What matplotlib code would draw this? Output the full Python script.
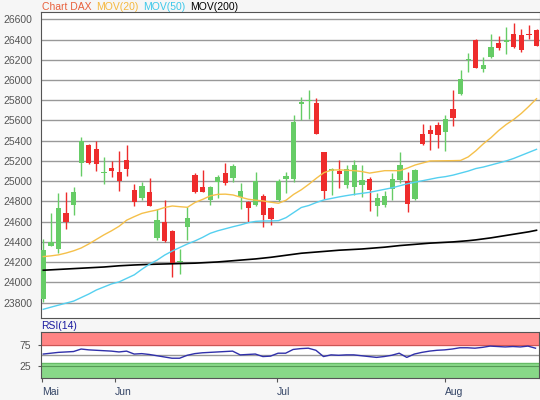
import matplotlib.pyplot as plt

plt.rcParams['font.family'] = ['Liberation Sans', 'DejaVu Sans']

# daily candles (Mai - Aug), one entry per trading day
opens = [23840, 24363, 24330, 24686, 24765, 25176, 25360, 25318, 25077, 25127,
         25087, 25206, 24916, 24837, 24890, 24439, 24593, 24511, 24200, 24544,
         25061, 24946, 24817, 24990, 25076, 25033, 24839, 24796, 24763, 24852,
         24737, 24812, 25020, 25020, 25765, 25790, 25776, 25288, 25097, 25097,
         24965, 24942, 24965, 25025, 24758, 24768, 24926, 25008, 25005, 24822,
         25465, 25505, 25554, 25488, 25712, 25857, 26196, 26400, 26112, 26225,
         26367, 26380, 26455, 26445, 26455, 26494]
highs = [24430, 24686, 24883, 24896, 24946, 25440, 25365, 25393, 25242, 25202,
         25301, 25360, 24972, 24995, 25028, 24725, 24817, 24521, 24330, 24745,
         25081, 25114, 24956, 25064, 25175, 25165, 24987, 24800, 25086, 24878,
         24740, 25026, 25086, 25652, 25833, 25900, 25825, 25292, 25130, 25206,
         25163, 25206, 25163, 25041, 24883, 24900, 25081, 25285, 25094, 25120,
         25564, 25554, 25580, 25653, 25900, 26097, 26262, 26405, 26232, 26452,
         26430, 26520, 26567, 26500, 26544, 26500]
lows = [23803, 24356, 24291, 24528, 24666, 25054, 25170, 25104, 24972, 25038,
        24900, 25054, 24751, 24817, 24751, 24422, 24396, 24050, 24083, 24419,
        24884, 24890, 24765, 24834, 24961, 24993, 24730, 24592, 24756, 24549,
        24566, 24806, 24885, 24993, 25602, 25619, 25467, 24827, 24867, 24933,
        24933, 24867, 24844, 24702, 24653, 24745, 24817, 24982, 24699, 24815,
        25360, 25307, 25330, 25297, 25547, 25855, 26081, 26120, 26075, 26215,
        26297, 26260, 26313, 26280, 26402, 26340]
closes = [24318, 24396, 24738, 24600, 24890, 25400, 25176, 25170, 25090, 25100,
          25002, 25117, 24791, 24949, 24751, 24620, 24406, 24192, 24212, 24640,
          24890, 24896, 24939, 25045, 24987, 25148, 24901, 24737, 25003, 24664,
          24625, 25003, 25053, 25586, 25780, 25805, 25469, 24900, 25123, 25074,
          25123, 25156, 25015, 24916, 24834, 24857, 25021, 25163, 24772, 25110,
          25363, 25462, 25455, 25610, 25626, 26005, 26206, 26122, 26148, 26329,
          26313, 26398, 26329, 26297, 26440, 26340]

mov20 = [24255, 24262, 24272, 24290, 24312, 24340, 24380, 24425, 24470, 24510,
         24555, 24615, 24650, 24682, 24700, 24716, 24740, 24755, 24748, 24742,
         24790, 24820, 24855, 24870, 24872, 24864, 24842, 24822, 24812, 24805,
         24792, 24782, 24812, 24870, 24915, 24970, 25030, 25085, 25110, 25112,
         25108, 25104, 25095, 25080, 25092, 25104, 25104, 25104, 25130, 25160,
         25180, 25200, 25201, 25202, 25203, 25205, 25240, 25300, 25370, 25430,
         25500, 25560, 25610, 25670, 25740, 25815]
mov50 = [23734, 23755, 23775, 23795, 23815, 23850, 23885, 23925, 23955, 23985,
         24005, 24040, 24075, 24130, 24180, 24220, 24270, 24310, 24345, 24380,
         24410, 24445, 24485, 24510, 24530, 24550, 24568, 24590, 24603, 24607,
         24607, 24610, 24640, 24690, 24740, 24760, 24790, 24815, 24830, 24845,
         24858, 24870, 24880, 24890, 24905, 24920, 24935, 24955, 24975, 24990,
         25005, 25020, 25035, 25045, 25060, 25080, 25100, 25125, 25140, 25160,
         25180, 25200, 25225, 25255, 25285, 25315]
mov200 = [24120, 24124, 24128, 24132, 24136, 24140, 24144, 24148, 24152, 24158,
          24164, 24168, 24172, 24175, 24178, 24180, 24182, 24184, 24186, 24188,
          24190, 24194, 24198, 24202, 24208, 24214, 24220, 24226, 24232, 24240,
          24248, 24258, 24268, 24278, 24288, 24294, 24300, 24306, 24312, 24318,
          24322, 24326, 24330, 24336, 24342, 24348, 24356, 24364, 24370, 24376,
          24382, 24388, 24392, 24396, 24400, 24406, 24412, 24420, 24430, 24440,
          24452, 24464, 24476, 24488, 24500, 24515]

rsi = [53, 55, 57, 58, 59, 65, 63, 62, 61, 60,
       58, 60, 53, 54, 52, 49, 46, 43, 43, 50,
       54, 56, 57, 58, 59, 60, 51, 52, 53, 47,
       48, 55, 55, 64, 66, 67, 62, 47, 51, 50,
       51, 51, 49, 47, 45, 47, 50, 55, 45, 53,
       57, 60, 62, 63, 65, 68, 68, 67, 69, 72,
       71, 70, 71, 70, 72, 67]

month_labels = ['Mai', 'Jun', 'Jul', 'Aug']
month_pos = [-0.2, 9.5, 30.8, 53.0]

green = '#66cc66'
red = '#ee2c2c'
xs = list(range(len(opens)))
colors = [green if c >= o else red for o, c in zip(opens, closes)]
body_bottom = [min(o, c) for o, c in zip(opens, closes)]
body_height = [max(abs(c - o), 14) for o, c in zip(opens, closes)]

fig = plt.figure(figsize=(5.4, 4.0), dpi=100, facecolor='#f6f6f6')

# price panel
ax = fig.add_axes([40.7 / 540, 1 - 318 / 400, 1 - 40.7 / 540, 306 / 400])
ax.set_facecolor('white')
ax.set_yticks(range(23800, 26601, 200))
ax.grid(axis='y', color='#999999', linewidth=1)
ax.set_axisbelow(True)
ax.vlines(xs, lows, highs, colors=colors, linewidth=1, zorder=2)
ax.bar(xs, body_height, bottom=body_bottom, width=0.7, color=colors, zorder=3)
ax.plot(xs, mov200, color='black', linewidth=1.2, zorder=4)
ax.plot(xs, mov50, color='#55d0f0', linewidth=1, zorder=4)
ax.plot(xs, mov20, color='#f5c04a', linewidth=1, zorder=4)
ax.set_xlim(-0.34, 65.46)
ax.set_ylim(23648, 26672)
ax.set_xticks([])
ax.tick_params(axis='y', length=0, pad=6, labelsize=7.5, labelcolor='#555555')
for s in ax.spines.values():
    s.set_color('#555555')

# title line
fig.text(41.5 / 540, 1 - 7 / 400, 'Chart DAX', color='#e8603c', fontsize=7.5, va='center')
fig.text(95.7 / 540, 1 - 7 / 400, 'MOV(20)', color='#f5b83d', fontsize=7.5, va='center')
fig.text(142.7 / 540, 1 - 7 / 400, 'MOV(50)', color='#3cc8ea', fontsize=7.5, va='center')
fig.text(189.7 / 540, 1 - 7 / 400, 'MOV(200)', color='black', fontsize=7.5, va='center')

# RSI panel
ax2 = fig.add_axes([40.7 / 540, 1 - 378.3 / 400, 498.3 / 540, 46 / 400])
ax2.set_facecolor('white')
ax2.axhspan(74, 105, color='#ff8484', zorder=1)
ax2.axhspan(-5, 32, color='#88d888', zorder=1)
ax2.axhline(74, color='#cc5555', linewidth=0.8, zorder=2)
ax2.axhline(32, color='#66bb66', linewidth=0.8, zorder=2)
ax2.axhline(50, color='#999999', linewidth=1, zorder=2)
ax2.axhline(25, color='#559955', linewidth=0.8, zorder=2)
ax2.plot(xs, rsi, color='#3030aa', linewidth=1, zorder=3)
ax2.set_xlim(-0.34, 65.46)
ax2.set_ylim(-5, 105)
ax2.set_yticks([25, 75])
ax2.tick_params(axis='y', length=2, pad=5, labelsize=7.5, labelcolor='#555555', color='#555555')
ax2.set_xticks(month_pos)
ax2.set_xticklabels(month_labels, ha='left')
ax2.tick_params(axis='x', length=3, pad=3, labelsize=7.5, labelcolor='#334466', color='#555555')
for s in ax2.spines.values():
    s.set_color('#555555')
fig.text(41 / 540, 1 - 326 / 400, 'RSI(14)', color='#1a1aa0', fontsize=7.5, va='center')

fig.savefig('out.png', dpi=100, facecolor=fig.get_facecolor())
